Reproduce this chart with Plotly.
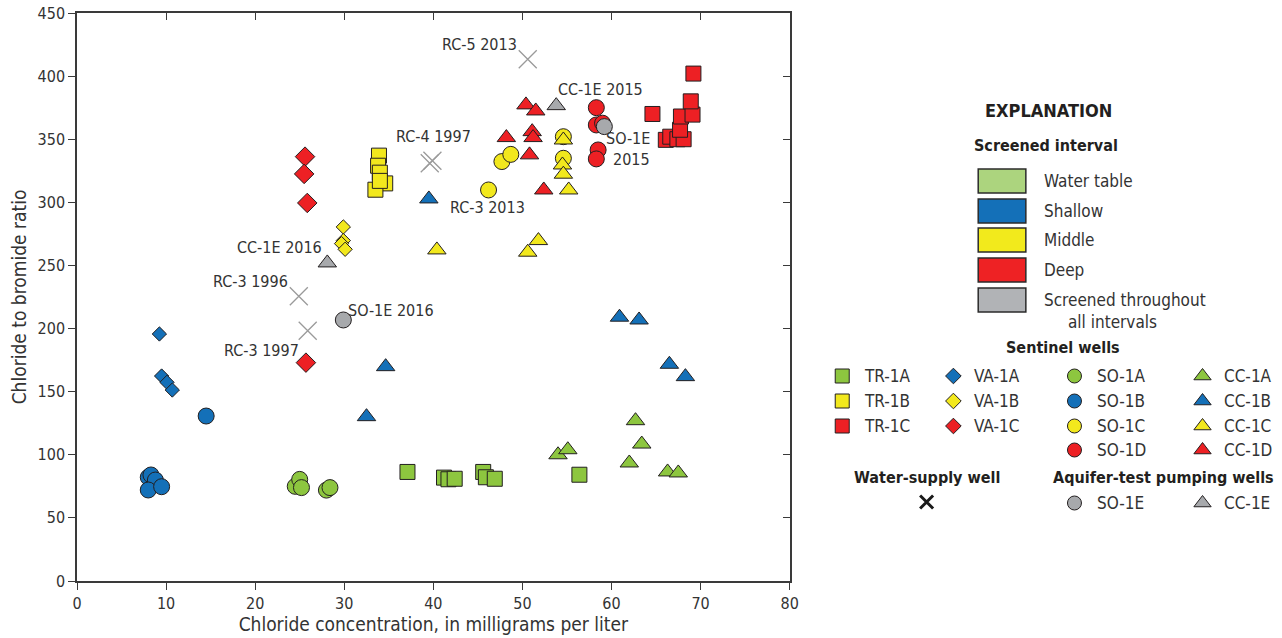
import plotly.graph_objects as go

# ---------------- data ----------------
tr1a_x = [37.1, 41.2, 41.7, 42.4, 45.6, 45.9, 46.9, 56.4]
tr1a_y = [86.4, 81.9, 80.6, 81.0, 86.4, 82.2, 81.0, 84.2]
tr1b_x = [33.9, 33.8, 34.0, 34.6, 33.5, 34.0]
tr1b_y = [337.0, 329.0, 323.5, 315.0, 310.0, 317.0]
tr1c_x = [64.6, 66.1, 66.6, 67.4, 68.1, 67.7, 67.8, 69.1, 68.9, 69.2]
tr1c_y = [370.0, 349.5, 352.0, 350.0, 350.0, 357.5, 368.0, 369.5, 380.0, 402.0]

va1a_x = [9.25, 9.5, 10.1, 10.7]
va1a_y = [195.7, 162.4, 157.4, 151.3]
va1b_x = [29.9, 29.9, 29.7, 30.1]
va1b_y = [280.5, 269.7, 267.3, 262.8]
va1c_x = [25.6, 25.5, 25.85, 25.7]
va1c_y = [336.2, 322.5, 299.5, 173.0]

so1a_x = [24.5, 25.0, 25.2, 28.0, 28.4]
so1a_y = [75.0, 80.5, 74.0, 72.0, 74.0]
so1b_x = [8.0, 8.3, 8.8, 8.0, 9.5, 14.5]
so1b_y = [82.2, 84.0, 80.0, 72.1, 74.7, 130.7]
so1c_x = [46.2, 47.7, 48.7, 54.6, 54.6]
so1c_y = [309.8, 332.3, 338.0, 334.9, 352.0]
so1d_x = [58.3, 58.3, 59.0, 58.5, 58.3]
so1d_y = [375.0, 361.3, 362.7, 341.5, 334.4]

cc1a_x = [54.0, 55.1, 62.7, 63.4, 62.0, 66.3, 67.5]
cc1a_y = [100.0, 104.0, 127.0, 108.5, 93.5, 86.4, 85.6]
cc1b_x = [39.5, 34.65, 32.5, 60.9, 63.1, 66.5, 68.3]
cc1b_y = [302.7, 169.8, 130.2, 209.0, 206.8, 171.7, 161.9]
cc1c_x = [40.4, 50.6, 51.8, 54.6, 54.5, 54.6, 55.2]
cc1c_y = [262.3, 260.5, 269.7, 349.4, 329.6, 322.3, 309.8]
cc1d_x = [50.4, 51.5, 51.1, 51.2, 48.2, 50.8, 52.4]
cc1d_y = [377.2, 372.4, 356.0, 351.3, 351.3, 337.6, 309.8]

so1e_x = [59.2, 29.9]
so1e_y = [360.0, 206.8]
cc1e_x = [53.8, 28.1]
cc1e_y = [376.6, 252.0]

supply_x = [24.9, 25.9, 39.6, 39.9, 50.6]
supply_y = [225.6, 198.3, 331.0, 333.0, 413.4]

label_text = ["RC-5 2013", "CC-1E 2015", "RC-4 1997", "SO-1E", "2015", "RC-3 2013",
              "CC-1E 2016", "RC-3 1996", "SO-1E 2016", "RC-3 1997"]
label_x = [45.2, 58.8, 40.0, 61.9, 62.3, 46.1, 22.7, 19.5, 35.2, 20.7]
label_y = [424.7, 389.1, 351.8, 350.2, 333.6, 295.6, 263.9, 236.9, 214.7, 182.3]

x_ticks = [0, 10, 20, 30, 40, 50, 60, 70, 80]
y_ticks = [0, 50, 100, 150, 200, 250, 300, 350, 400, 450]

# ---------------- styling ----------------
GREEN = '#8dc63f'
BLUE = '#1470b8'
YELLOW = '#f2e81d'
RED = '#ed2024'
GRAY = '#a7a9ac'
EDGE = '#231f20'
TXT = '#333333'
FONT = 'Liberation Sans Narrow, DejaVu Sans Condensed, Roboto, sans-serif'

W, H = 1282, 638
ML, MR, MT, MB = 77, 2, 13, 57
PW = W - ML - MR
XDOM_END = 718 / PW
CLEAR = 'rgba(0,0,0,0)'

fig = go.Figure()


def add(xs, ys, symbol, color, size, name):
    fig.add_trace(go.Scatter(
        x=xs, y=ys, mode='markers', name=name, showlegend=False,
        marker=dict(symbol=symbol, color=color, size=size,
                    line=dict(color=EDGE, width=1)),
        xaxis='x', yaxis='y'))


# water-supply wells (drawn underneath)
fig.add_trace(go.Scatter(x=supply_x, y=supply_y, mode='markers', showlegend=False,
                         marker=dict(symbol='x-thin-open', size=18, color='#9a9a9a',
                                     line=dict(color='#9a9a9a', width=1.3))))

add(so1a_x, so1a_y, 'circle', GREEN, 16, 'SO-1A')
add(so1b_x, so1b_y, 'circle', BLUE, 16, 'SO-1B')
add(so1c_x, so1c_y, 'circle', YELLOW, 16, 'SO-1C')
add(so1d_x, so1d_y, 'circle', RED, 16, 'SO-1D')
add(tr1a_x, tr1a_y, 'square', GREEN, 15, 'TR-1A')
add(tr1b_x, tr1b_y, 'square', YELLOW, 15, 'TR-1B')
add(tr1c_x, tr1c_y, 'square', RED, 15, 'TR-1C')
add(va1a_x, va1a_y, 'diamond', BLUE, 11, 'VA-1A')
add(va1b_x, va1b_y, 'diamond', YELLOW, 11, 'VA-1B')
add(va1c_x, va1c_y, 'diamond', RED, 15, 'VA-1C')
add(cc1a_x, cc1a_y, 'triangle-up', GREEN, 16, 'CC-1A')
add(cc1b_x, cc1b_y, 'triangle-up', BLUE, 16, 'CC-1B')
add(cc1c_x, cc1c_y, 'triangle-up', YELLOW, 16, 'CC-1C')
add(cc1d_x, cc1d_y, 'triangle-up', RED, 16, 'CC-1D')
add(so1e_x, so1e_y, 'circle', GRAY, 16, 'SO-1E')
add(cc1e_x, cc1e_y, 'triangle-up', GRAY, 16, 'CC-1E')

# dummy trace so that the mirrored top/right axes exist
fig.add_trace(go.Scatter(x=[None], y=[None], xaxis='x2', yaxis='y2',
                         showlegend=False, hoverinfo='skip'))

annotations = []
for t, x, y in zip(label_text, label_x, label_y):
    annotations.append(dict(text=t, x=x, y=y, xref='x', yref='y', showarrow=False,
                            font=dict(family=FONT, size=16, color=TXT)))

# ---------------- explanation (legend) in pixel coordinates ----------------
shapes = []
swatch_labels = ['Water table', 'Shallow', 'Middle', 'Deep', 'Screened throughout']
swatch_colors = ['#acd47e', '#1470b8', '#f2ea1c', '#ee2224', '#b1b3b6']
swatch_cy = [181, 211, 240, 270, 300]
for lab, col, cy in zip(swatch_labels, swatch_colors, swatch_cy):
    shapes.append(dict(type='rect', xref='x3', yref='y3', x0=985, x1=1033,
                       y0=cy - 12, y1=cy + 12, fillcolor=col,
                       line=dict(color='#2b2b2b', width=1.5)))
    annotations.append(dict(text=lab, x=1049, y=cy, xref='x3', yref='y3',
                            xanchor='left', showarrow=False,
                            font=dict(family=FONT, size=17, color=TXT)))
annotations.append(dict(text='all intervals', x=1120, y=322, xref='x3', yref='y3',
                        showarrow=False, font=dict(family=FONT, size=17, color=TXT)))

heads = [('<b>EXPLANATION</b>', 1056, 110, 18), ('<b>Screened interval</b>', 1053, 145, 16),
         ('<b>Sentinel wells</b>', 1070, 347, 16), ('<b>Water-supply well</b>', 933, 477, 16),
         ('<b>Aquifer-test pumping wells</b>', 1172, 477, 16)]
for t, x, y, s in heads:
    annotations.append(dict(text=t, x=x, y=y, xref='x3', yref='y3', showarrow=False,
                            font=dict(family=FONT, size=s, color='#231f20')))

leg_names = [['TR-1A', 'TR-1B', 'TR-1C'], ['VA-1A', 'VA-1B', 'VA-1C'],
             ['SO-1A', 'SO-1B', 'SO-1C', 'SO-1D', 'SO-1E'],
             ['CC-1A', 'CC-1B', 'CC-1C', 'CC-1D', 'CC-1E']]
leg_colors = [[GREEN, YELLOW, RED], [BLUE, YELLOW, RED],
              [GREEN, BLUE, YELLOW, RED, GRAY], [GREEN, BLUE, YELLOW, RED, GRAY]]
leg_sym = ['square', 'diamond', 'circle', 'triangle-up']
leg_size = [14, 12, 14, 15]
leg_mx = [848, 960, 1082, 1211]
leg_tx = [868, 979, 1103, 1231]
row_y = [376, 401, 426, 450, 503]
for ci in range(4):
    n = len(leg_names[ci])
    ys = row_y[:n]
    fig.add_trace(go.Scatter(x=[leg_mx[ci]] * n, y=ys, xaxis='x3', yaxis='y3',
                             mode='markers', showlegend=False, hoverinfo='skip',
                             marker=dict(symbol=leg_sym[ci], size=leg_size[ci],
                                         color=leg_colors[ci],
                                         line=dict(color=EDGE, width=1))))
    for nm, y in zip(leg_names[ci], ys):
        annotations.append(dict(text=nm, x=leg_tx[ci], y=y, xref='x3', yref='y3',
                                xanchor='left', showarrow=False,
                                font=dict(family=FONT, size=17, color=TXT)))
fig.add_trace(go.Scatter(x=[933], y=[502], xaxis='x3', yaxis='y3', mode='markers',
                         showlegend=False, hoverinfo='skip',
                         marker=dict(symbol='x-thin-open', size=13, color='#1a1a1a',
                                     line=dict(color='#1a1a1a', width=3))))

axis_common = dict(showgrid=False, zeroline=False, showline=True,
                   linecolor='#3a3a3a', linewidth=1.5, ticklen=7,
                   tickcolor='#3a3a3a', tickwidth=1.3,
                   tickfont=dict(family=FONT, size=16, color=TXT))

fig.update_layout(
    width=W, height=H, margin=dict(l=ML, r=MR, t=MT, b=MB),
    paper_bgcolor='white', plot_bgcolor=CLEAR, showlegend=False,
    xaxis=dict(domain=[0, XDOM_END], range=[0, 80], tickvals=x_ticks, ticks='outside',
               title=dict(text='Chloride concentration, in milligrams per liter',
                          font=dict(family=FONT, size=19, color=TXT), standoff=0),
               anchor='y', **axis_common),
    yaxis=dict(domain=[0, 1], range=[0, 450], tickvals=y_ticks, ticks='outside',
               title=dict(text='Chloride to bromide ratio',
                          font=dict(family=FONT, size=19, color=TXT), standoff=6),
               anchor='x', **axis_common),
    xaxis2=dict(overlaying='x', side='top', range=[0, 80], tickvals=x_ticks,
                ticks='inside', showticklabels=False, anchor='y', **axis_common),
    yaxis2=dict(overlaying='y', side='right', range=[0, 450], tickvals=y_ticks,
                ticks='inside', showticklabels=False, anchor='x', **axis_common),
    xaxis3=dict(domain=[0, 1], range=[ML, W - MR], visible=False, anchor='y3',
                fixedrange=True),
    yaxis3=dict(domain=[0, 1], range=[H - MB, MT], visible=False, anchor='x3',
                fixedrange=True),
    shapes=shapes, annotations=annotations,
)

fig.write_html('out.html')
